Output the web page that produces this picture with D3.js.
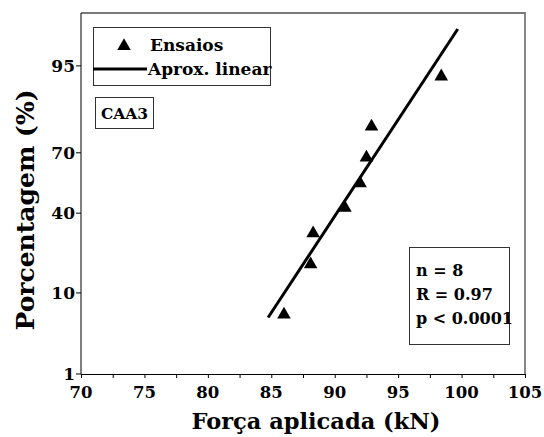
<!DOCTYPE html>
<html>
<head>
<meta charset="utf-8">
<script src="https://cdn.jsdelivr.net/npm/d3@7"></script>
<style>
  body { margin: 0; background: #fff; }
  text { font-family: "DejaVu Serif", serif; font-weight: bold; fill: #000; }
</style>
</head>
<body>
<div id="chart"></div>
<script>
// Data
const forca = [86.0, 88.1, 88.3, 90.8, 92.0, 92.5, 92.9, 98.4];
const porcentagem = [6.25, 18.75, 31.25, 43.75, 56.25, 68.75, 81.25, 93.75];
const ajusteForca = [84.75, 99.7];
const ajustePorc = [5.5, 98.3];
const xTicks = [70, 75, 80, 85, 90, 95, 100, 105];
const yTicks = [1, 10, 40, 70, 95];
const stats = ["n = 8", "R = 0.97", "p < 0.0001"];

const width = 544, height = 437;
const margin = { left: 81, top: 13, right: 19, bottom: 63 };

// inverse normal CDF (Acklam) for the probability axis
function probit(p) {
    const a = [-39.69683028665376, 220.9460984245205, -275.9285104469687, 138.3577518672690, -30.66479806614716, 2.506628277459239];
    const b = [-54.47609879822406, 161.5858368580409, -155.6989798598866, 66.80131188771972, -13.28068155288572];
    const c = [-0.007784894002430293, -0.3223964580411365, -2.400758277161838, -2.549671750411608, 4.374664141464968, 2.938163982698783];
    const d = [0.007784695709041462, 0.3224671290700398, 2.445134137142996, 3.754408661907416];
    const plow = 0.02425;
    let q, r;
    if (p < plow) {
        q = Math.sqrt(-2 * Math.log(p));
        return (((((c[0]*q+c[1])*q+c[2])*q+c[3])*q+c[4])*q+c[5]) / ((((d[0]*q+d[1])*q+d[2])*q+d[3])*q+1);
    }
    if (p > 1 - plow) {
        q = Math.sqrt(-2 * Math.log(1 - p));
        return -(((((c[0]*q+c[1])*q+c[2])*q+c[3])*q+c[4])*q+c[5]) / ((((d[0]*q+d[1])*q+d[2])*q+d[3])*q+1);
    }
    q = p - 0.5; r = q * q;
    return (((((a[0]*r+a[1])*r+a[2])*r+a[3])*r+a[4])*r+a[5])*q / (((((b[0]*r+b[1])*r+b[2])*r+b[3])*r+b[4])*r+1);
}

const svg = d3.select("#chart")
    .append("svg")
    .attr("width", width)
    .attr("height", height);

const x = d3.scaleLinear()
    .domain([70, 105])
    .range([margin.left, width - margin.right]);

const zy = d3.scaleLinear()
    .domain([probit(0.01), probit(0.99)])
    .range([height - margin.bottom, margin.top]);
const y = v => zy(probit(v / 100));

const x0 = margin.left, x1 = width - margin.right;
const y0 = height - margin.bottom, y1 = margin.top;

// top and right frame (grey)
svg.append("path")
    .attr("d", `M${x0},${y1}H${x1}V${y0}`)
    .attr("fill", "none")
    .attr("stroke", "#7a7a7a")
    .attr("stroke-width", 1.8);

// x axis: ticks every 2.5, labels every 5
const xAxis = svg.append("g")
    .attr("transform", `translate(0,${y0})`)
    .call(d3.axisBottom(x)
        .tickValues(d3.range(70, 105.1, 2.5))
        .tickSize(4)
        .tickFormat(""));
xAxis.select(".domain").attr("stroke", "#000");
svg.append("g")
    .selectAll("text")
    .data(xTicks)
    .enter()
    .append("text")
    .attr("x", d => x(d))
    .attr("y", y0 + 24)
    .attr("text-anchor", "middle")
    .style("font-size", "16.5px")
    .text(d => d);

// y axis (probability scale)
const yAxis = svg.append("g")
    .attr("transform", `translate(${x0},0)`);
yAxis.append("line")
    .attr("x1", 0).attr("x2", 0)
    .attr("y1", y0).attr("y2", y1)
    .attr("stroke", "#000");
yAxis.selectAll(".ytick")
    .data(yTicks)
    .enter()
    .append("line")
    .attr("x1", -5).attr("x2", 0)
    .attr("y1", d => y(d)).attr("y2", d => y(d))
    .attr("stroke", "#000");
yAxis.selectAll(".ylab")
    .data(yTicks)
    .enter()
    .append("text")
    .attr("x", -6)
    .attr("y", d => y(d))
    .attr("dy", "0.36em")
    .attr("text-anchor", "end")
    .style("font-size", "17px")
    .text(d => d);

// axis titles
svg.append("text")
    .attr("x", (x0 + x1) / 2 + 13)
    .attr("y", 429)
    .attr("text-anchor", "middle")
    .style("font-size", "22.5px")
    .text("Força aplicada (kN)");

svg.append("text")
    .attr("transform", `translate(34,210) rotate(-90)`)
    .attr("text-anchor", "middle")
    .style("font-size", "25px")
    .text("Porcentagem (%)");

// fitted line
svg.append("line")
    .attr("x1", x(ajusteForca[0])).attr("y1", y(ajustePorc[0]))
    .attr("x2", x(ajusteForca[1])).attr("y2", y(ajustePorc[1]))
    .attr("stroke", "#000")
    .attr("stroke-width", 3);

// data points
const tri = d3.symbol(d3.symbolTriangle, 80);
svg.selectAll(".pt")
    .data(forca.map((f, i) => ({ f, p: porcentagem[i] })))
    .enter()
    .append("path")
    .attr("d", tri)
    .attr("transform", d => `translate(${x(d.f)},${y(d.p) + 2})`)
    .attr("fill", "#000");

// legend
svg.append("rect")
    .attr("x", 93.5).attr("y", 27.5)
    .attr("width", 177).attr("height", 58)
    .attr("fill", "none").attr("stroke", "#333");
svg.append("path")
    .attr("d", tri)
    .attr("transform", "translate(124,46)")
    .attr("fill", "#000");
svg.append("text")
    .attr("x", 150).attr("y", 51)
    .style("font-size", "17px")
    .text("Ensaios");
svg.append("line")
    .attr("x1", 93).attr("x2", 147)
    .attr("y1", 69).attr("y2", 69)
    .attr("stroke", "#000").attr("stroke-width", 3);
svg.append("text")
    .attr("x", 148).attr("y", 75)
    .style("font-size", "17px")
    .text("Aprox. linear");

// CAA3 label
svg.append("rect")
    .attr("x", 95.5).attr("y", 97.5)
    .attr("width", 58).attr("height", 31)
    .attr("fill", "none").attr("stroke", "#333");
svg.append("text")
    .attr("x", 124.5).attr("y", 119)
    .attr("text-anchor", "middle")
    .style("font-size", "15.5px")
    .text("CAA3");

// stats box
svg.append("rect")
    .attr("x", 409.5).attr("y", 247.5)
    .attr("width", 100).attr("height", 97)
    .attr("fill", "none").attr("stroke", "#333");
svg.selectAll(".stat")
    .data(stats)
    .enter()
    .append("text")
    .attr("x", 416)
    .attr("y", (d, i) => 276 + i * 24)
    .style("font-size", "16px")
    .text(d => d);
</script>
</body>
</html>
